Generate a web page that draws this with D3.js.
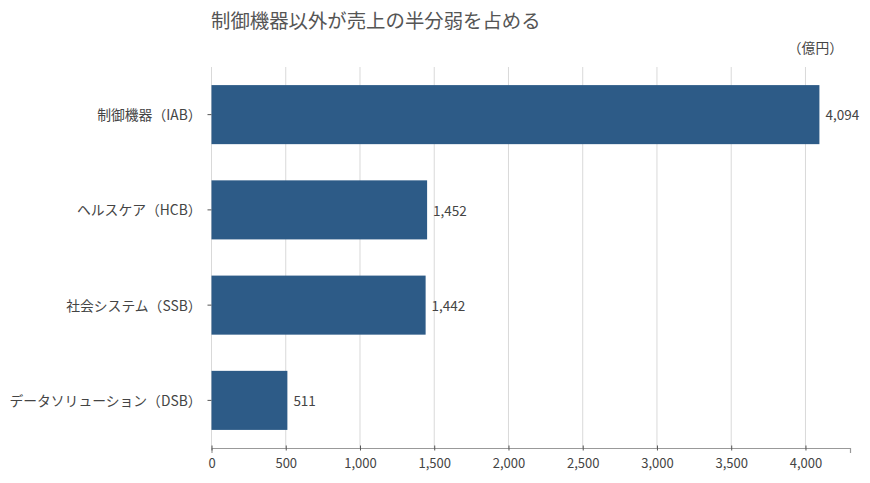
<!DOCTYPE html>
<html><head><meta charset="utf-8">
<script src="https://cdn.jsdelivr.net/npm/d3@7"></script>
<style>
body{margin:0;background:#fff;}
text{font-family:"Noto Sans CJK JP","Noto Sans",sans-serif;}
</style></head>
<body><svg id="c" width="870" height="483"></svg>
<script>
const categories = ["制御機器（IAB）","ヘルスケア（HCB）","社会システム（SSB）","データソリューション（DSB）"];
const values = [4094, 1452, 1442, 511];
const xTicks = [0,500,1000,1500,2000,2500,3000,3500,4000];
const title = "制御機器以外が売上の半分弱を占める";
const unit = "（億円）";

const svg = d3.select("#c");
const m = {left:211.5, right:850, top:67, bottom:448};
const x = d3.scaleLinear().domain([0,4300]).range([m.left,m.right]);
const y = d3.scaleBand().domain(categories).range([m.top,m.bottom]).paddingInner(0.38).paddingOuter(0.19);
const F = '"Noto Sans CJK JP","Noto Sans",sans-serif';

svg.append("g").selectAll("line").data(xTicks).join("line")
 .attr("x1",d=>x(d)).attr("x2",d=>x(d)).attr("y1",m.top).attr("y2",m.bottom)
 .attr("stroke","#d9d9d9").attr("stroke-width",1);

svg.append("g").selectAll("rect").data(values).join("rect")
 .attr("x",x(0)).attr("y",(d,i)=>y(categories[i]))
 .attr("width",d=>x(d)-x(0)).attr("height",y.bandwidth())
 .attr("fill","#2d5b87");

svg.append("g").selectAll("text").data(values).join("text")
 .attr("x",d=>x(d)+6).attr("y",(d,i)=>y(categories[i])+y.bandwidth()/2+1)
 .attr("dy","0.35em").attr("font-size",13.5).attr("fill","#444")
 .text(d=>d3.format(",")(d));

const xa = svg.append("g").attr("transform",`translate(0,${m.bottom})`)
 .call(d3.axisBottom(x).tickValues(xTicks).tickFormat(d3.format(",")).tickSize(5).tickPadding(6));
xa.select(".domain").attr("stroke","#999").attr("stroke-width",1.2);
xa.selectAll(".tick line").attr("stroke","#555").attr("transform","translate(0,-2.5)");
xa.selectAll(".tick text").attr("font-size",13).attr("fill","#444").attr("font-family",F);

const ya = svg.append("g").attr("transform",`translate(${m.left},0)`)
 .call(d3.axisLeft(y).tickSize(4).tickPadding(6));
ya.select(".domain").remove();
ya.selectAll(".tick line").attr("stroke","#555");
ya.selectAll(".tick text").attr("font-size",13.8).attr("fill","#444").attr("font-family",F).attr("dy","0.4em");

svg.append("text").attr("x",211).attr("y",28).attr("font-size",19.4).attr("fill","#555").text(title);
svg.append("text").attr("x",843).attr("y",53).attr("text-anchor","end").attr("font-size",13.8).attr("fill","#444").text(unit);
</script></body></html>
